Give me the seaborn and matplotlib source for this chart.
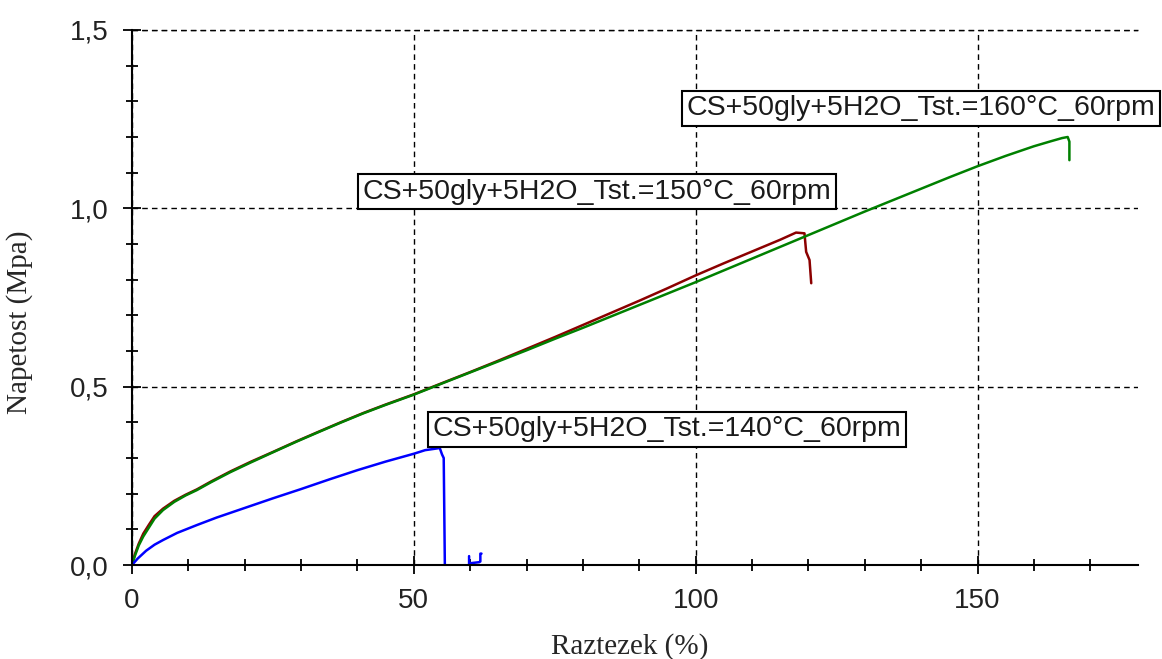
import numpy as np
import pandas as pd
import matplotlib
matplotlib.use("Agg")
import matplotlib.pyplot as plt
from matplotlib.ticker import MultipleLocator, FuncFormatter
import seaborn as sns

# ===== podatki (odčitano s slike) =====
x_160 = [0, 0.5, 1.2, 2, 3, 4, 5.5, 7.5, 9.5, 11.5, 14, 17.4, 21, 25, 29.2, 33, 37, 41, 45, 49.9,
         55, 60, 65, 70, 75, 80, 85, 90, 95, 100, 105, 110, 115, 120, 125, 130, 135, 140, 145,
         150, 155, 160, 163, 165, 166, 166.3, 166.3]
y_160 = [0, 0.025, 0.055, 0.08, 0.105, 0.13, 0.154, 0.177, 0.195, 0.21, 0.232, 0.26, 0.287, 0.316,
         0.346, 0.372, 0.399, 0.425, 0.449, 0.477, 0.509, 0.54, 0.571, 0.602, 0.634, 0.665, 0.697,
         0.729, 0.761, 0.793, 0.826, 0.859, 0.892, 0.925, 0.958, 0.991, 1.023, 1.055, 1.087, 1.118,
         1.147, 1.174, 1.188, 1.197, 1.2, 1.187, 1.135]

x_150 = [0, 0.5, 1.2, 2, 3, 4, 5.5, 7.5, 9.5, 11.5, 14, 17.4, 21, 25, 29.2, 33, 37, 41, 45, 49.9,
         55, 60, 65, 70, 75, 80, 85, 90, 95, 100, 105, 110, 115, 117.8, 119.3, 119.6, 120.2, 120.5]
y_150 = [0, 0.03, 0.06, 0.088, 0.113, 0.137, 0.158, 0.18, 0.197, 0.212, 0.234, 0.262, 0.289, 0.317,
         0.347, 0.373, 0.4, 0.426, 0.45, 0.478, 0.51, 0.541, 0.573, 0.606, 0.639, 0.673, 0.707,
         0.741, 0.776, 0.812, 0.846, 0.879, 0.912, 0.932, 0.93, 0.878, 0.855, 0.79]

x_140 = [0, 1, 2.5, 4, 5.5, 8, 11.5, 15, 20, 25, 30, 35, 40, 45, 50, 52, 54.6, 55.0, 55.3, 55.5]
y_140 = [0, 0.018, 0.04, 0.057, 0.07, 0.09, 0.112, 0.133, 0.16, 0.187, 0.213, 0.24, 0.266, 0.29,
         0.312, 0.322, 0.328, 0.31, 0.3, 0.0]
# kratki odboji po pretrgu
x_140b = [59.8, 59.8, 60.0, 61.6, 61.8, 61.8, 62.0]
y_140b = [0.025, 0.0, 0.005, 0.008, 0.01, 0.032, 0.032]

LABELS = {
    "140": "CS+50gly+5H2O_Tst.=140°C_60rpm",
    "150": "CS+50gly+5H2O_Tst.=150°C_60rpm",
    "160": "CS+50gly+5H2O_Tst.=160°C_60rpm",
}
LABEL_POS = {"150": (82.5, 1.047), "160": (139.9, 1.281), "140": (94.9, 0.38)}
COLORS = {"150": "#8B0000", "160": "#008000", "140": "#0000FF"}

frames = [
    pd.DataFrame({"x": x_150, "y": y_150, "serija": "150", "seg": "150a"}),
    pd.DataFrame({"x": x_160, "y": y_160, "serija": "160", "seg": "160a"}),
    pd.DataFrame({"x": x_140, "y": y_140, "serija": "140", "seg": "140a"}),
    pd.DataFrame({"x": x_140b, "y": y_140b, "serija": "140", "seg": "140b"}),
]
df = pd.concat(frames, ignore_index=True)

sns.set_style("white")
plt.rcParams["font.family"] = ["Liberation Sans", "DejaVu Sans"]

fig = plt.figure(figsize=(11.62, 6.59), dpi=100)
ax = fig.add_axes([0.1136, 0.1426, 0.979 - 0.1136, 0.9545 - 0.1426])

sns.lineplot(data=df, x="x", y="y", hue="serija", units="seg", estimator=None, sort=False,
             hue_order=["150", "160", "140"], palette=COLORS, linewidth=1.8, legend=False, ax=ax)

ax.set_xlim(0, 178.4)
ax.set_ylim(0, 1.5)
ax.xaxis.set_major_locator(MultipleLocator(50))
ax.xaxis.set_minor_locator(MultipleLocator(10))
ax.yaxis.set_major_locator(MultipleLocator(0.5))
ax.yaxis.set_minor_locator(MultipleLocator(0.1))
ax.yaxis.set_major_formatter(FuncFormatter(lambda v, p: f"{v:.1f}".replace(".", ",")))

for s in ["top", "right"]:
    ax.spines[s].set_visible(False)
for s in ["left", "bottom"]:
    ax.spines[s].set_color("black")
    ax.spines[s].set_linewidth(1.5)

ax.tick_params(which="both", bottom=True, left=True, top=False, right=False)
ax.tick_params(which="major", direction="inout", length=13, width=1.3, colors="black",
               labelsize=20, labelcolor="#222222", pad=10)
ax.tick_params(which="minor", direction="inout", length=9, width=1.3, colors="black")

ax.grid(True, which="major", color="black", linestyle=(0, (4, 3)), linewidth=1.0)
ax.axhline(1.5, color="black", linestyle=(0, (4, 3)), linewidth=1.0, clip_on=False)
ax.set_axisbelow(True)

serif = ["Liberation Serif", "DejaVu Serif"]
ax.set_xlabel("Raztezek (%)", family=serif, fontsize=21)
ax.set_ylabel("Napetost (Mpa)", family=serif, fontsize=21)
ax.xaxis.set_label_coords(0.495, -0.128)
ax.yaxis.set_label_coords(-0.098, 0.454)

for key, (tx, ty) in LABEL_POS.items():
    ax.text(tx, ty, LABELS[key], ha="center", va="center", fontsize=20.5, color="#1a1a1a",
            clip_on=False,
            bbox=dict(boxstyle="square,pad=0.16", facecolor="white", edgecolor="black", linewidth=1.5))

plt.savefig("out.png", dpi=100)
plt.close()
print("Saved: out.png")
